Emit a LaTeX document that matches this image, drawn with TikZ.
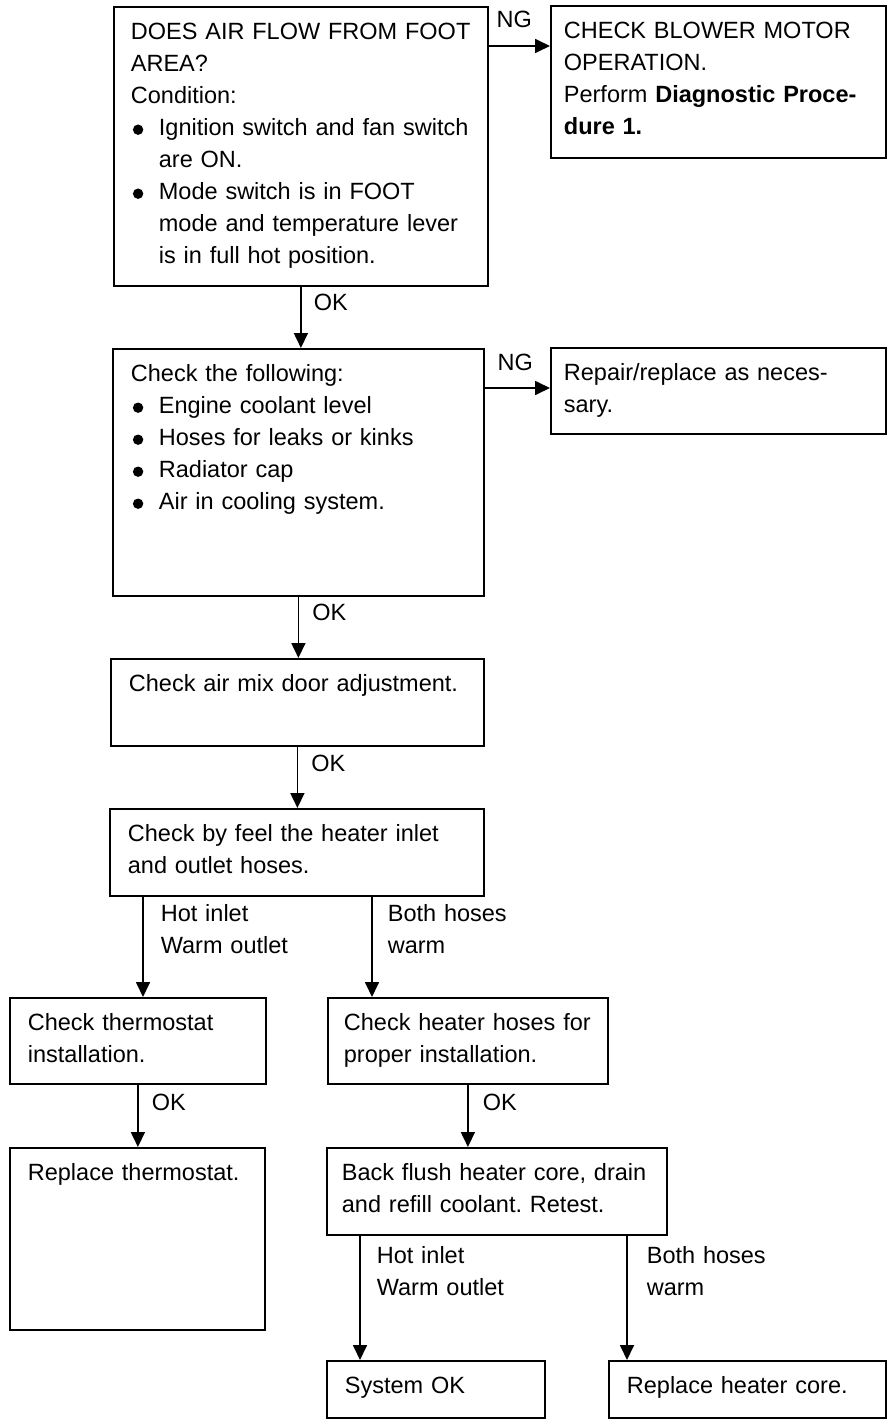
\documentclass[tikz,border=0pt]{standalone}
\usepackage{fontspec}
\setmainfont{Liberation Sans}
\usetikzlibrary{arrows.meta}
\frenchspacing

\newcommand{\bulletmark}{\makebox[28pt][l]{\hspace{2pt}\raisebox{1pt}{\tikz\fill (0pt,0pt) circle (5.2pt);}}}
\newcommand{\bulletgap}{\hspace*{28pt}}

\begin{document}
\begin{tikzpicture}[
  x=1pt,y=-1pt,
  box/.style={draw,line width=1.8pt,anchor=north west,align=left,inner xsep=18pt,inner ysep=0pt,text height=33pt},
  flow/.style={-{Triangle[length=15pt,width=14pt]},line width=1.7pt},
  lbl/.style={anchor=base west,align=left,inner sep=0pt,text width=150pt},
  every node/.append style={font=\fontsize{23.5}{32}\selectfont}
]
  \useasboundingbox (0,0) rectangle (896,1426);

  \node[box,inner xsep=17pt,text width=340pt,text depth=246pt] (ask) at (113,6)
    {DOES AIR FLOW FROM FOOT\\
     AREA?\\
     Condition:\\
     \bulletmark Ignition switch and fan switch\\
     \bulletgap are ON.\\
     \bulletmark Mode switch is in FOOT\\
     \bulletgap mode and temperature lever\\
     \bulletgap is in full hot position.};
  \node[box,inner xsep=13pt,text width=309pt,text depth=119pt] (blower) at (550,5)
    {CHECK BLOWER MOTOR\\
     OPERATION.\\
     Perform \textbf{Diagnostic Proce-}\\
     \textbf{dure 1.}};
  \node[box,text width=335pt,text depth=214pt] (chk) at (112,348)
    {Check the following:\\
     \bulletmark Engine coolant level\\
     \bulletmark Hoses for leaks or kinks\\
     \bulletmark Radiator cap\\
     \bulletmark Air in cooling system.};
  \node[box,inner xsep=13pt,text width=309pt,text depth=53pt] (repair) at (550,347)
    {Repair/replace as neces-\\sary.};
  \node[box,text width=337pt,text depth=54pt] (mix) at (110,658)
    {Check air mix door adjustment.};
  \node[box,text width=338pt,text depth=54pt] (feel) at (109,808)
    {Check by feel the heater inlet\\and outlet hoses.};
  \node[box,text width=220pt,text depth=53pt] (thermo) at (9,997)
    {Check thermostat\\installation.};
  \node[box,inner xsep=16pt,text width=248pt,text depth=53pt] (hoses) at (327,997)
    {Check heater hoses for\\proper installation.};
  \node[box,text width=219pt,text depth=149pt] (replthermo) at (9,1147)
    {Replace thermostat.};
  \node[box,inner xsep=15pt,text width=310pt,text depth=54pt] (flush) at (326,1147)
    {Back flush heater core, drain\\and refill coolant. Retest.};
  \node[box,text width=182pt,text depth=24pt] (sysok) at (326,1360)
    {System OK};
  \node[box,text width=241pt,text depth=24pt] (core) at (608,1360)
    {Replace heater core.};

  % branch points
  \coordinate (ng1) at ([yshift=-40pt]ask.north east);
  \coordinate (ng2) at ([yshift=-40pt]chk.north east);
  \coordinate (hot1) at ([xshift=34pt]feel.south west);
  \coordinate (warm1) at ([xshift=263pt]feel.south west);
  \coordinate (hot2) at ([xshift=34pt]flush.south west);
  \coordinate (warm2) at ([xshift=301pt]flush.south west);

  \draw[flow] (ng1) -- node[lbl,at start,xshift=7pt,yshift=18pt] {NG} (ng1 -| blower.west);
  \draw[flow] (ng2) -- node[lbl,at start,xshift=12pt,yshift=18pt] {NG} (ng2 -| repair.west);
  \draw[flow] (ask.south) -- node[lbl,at start,xshift=12pt,yshift=-24pt] {OK} (ask.south |- chk.north);
  \draw[flow] (chk.south) -- node[lbl,at start,xshift=13pt,yshift=-24pt] {OK} (chk.south |- mix.north);
  \draw[flow] (mix.south) -- node[lbl,at start,xshift=13pt,yshift=-25pt] {OK} (mix.south |- feel.north);
  \draw[flow] (hot1) -- node[lbl,at start,xshift=17pt,yshift=-25pt] {Hot inlet\\Warm outlet} (hot1 |- thermo.north);
  \draw[flow] (warm1) -- node[lbl,at start,xshift=15pt,yshift=-25pt] {Both hoses\\warm} (warm1 |- hoses.north);
  \draw[flow] (thermo.south) -- node[lbl,at start,xshift=13pt,yshift=-26pt] {OK} (thermo.south |- replthermo.north);
  \draw[flow] (hoses.south) -- node[lbl,at start,xshift=14pt,yshift=-26pt] {OK} (hoses.south |- flush.north);
  \draw[flow] (hot2) -- node[lbl,at start,xshift=16pt,yshift=-28pt] {Hot inlet\\Warm outlet} (hot2 |- sysok.north);
  \draw[flow] (warm2) -- node[lbl,at start,xshift=19pt,yshift=-28pt] {Both hoses\\warm} (warm2 |- core.north);
\end{tikzpicture}
\end{document}
